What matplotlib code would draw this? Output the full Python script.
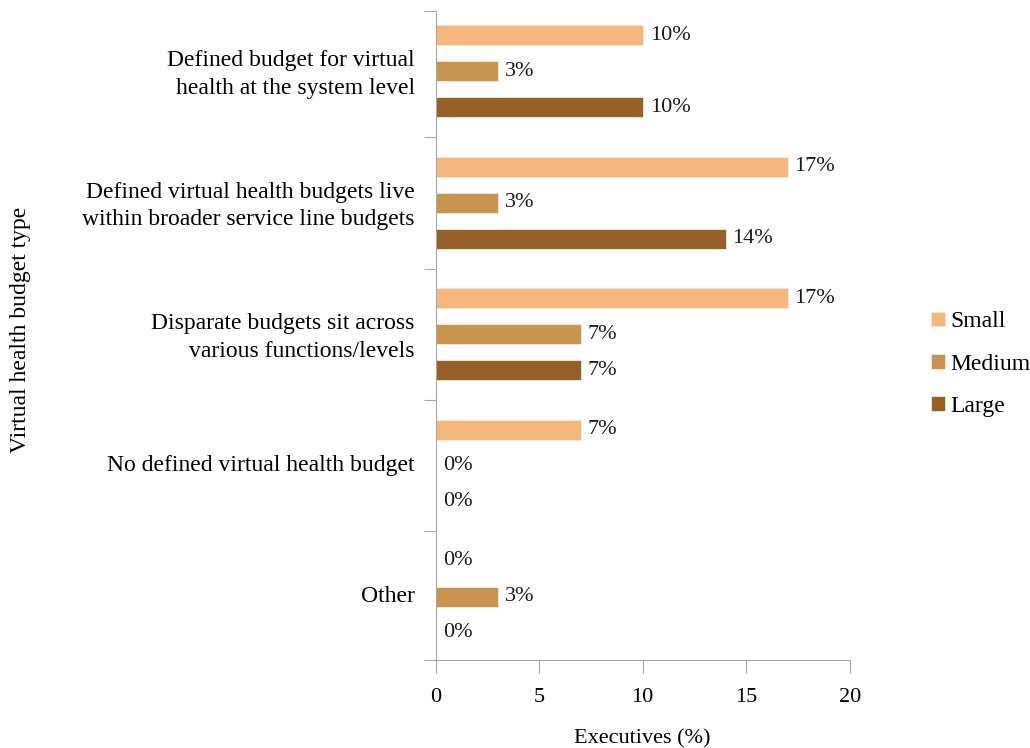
import numpy as np
import matplotlib.pyplot as plt

plt.rcParams['font.family'] = ['Liberation Serif', 'DejaVu Serif']

categories = [
    "Defined budget for virtual\nhealth at the system level",
    "Defined virtual health budgets live\nwithin broader service line budgets",
    "Disparate budgets sit across\nvarious functions/levels",
    "No defined virtual health budget",
    "Other",
]
series = ["Small", "Medium", "Large"]
small = [10, 17, 17, 7, 0]
medium = [3, 3, 7, 0, 3]
large = [10, 14, 7, 0, 0]
colors = ["#F4B87C", "#C8944E", "#956127"]

fig = plt.figure(figsize=(10.30, 7.48), dpi=100)
ax = fig.add_axes([0.423, 0.1176, 0.402, 0.8677])

y = np.arange(len(categories))
offsets = [-0.274, 0.0, 0.274]
for vals, off, col, name in zip([small, medium, large], offsets, colors, series):
    bars = ax.barh(y + off, vals, height=0.152, color=col, edgecolor="#fbe9d6",
                   linewidth=0.6, label=name)
    for b, v in zip(bars, vals):
        ax.annotate(f"{v}%", (v, b.get_y() + b.get_height() / 2),
                    xytext=(5, 0), textcoords="offset points",
                    va="center", ha="left", fontsize=16, color="#1a1a1a")

y_top, y_bot = -0.46, len(categories) - 0.52
ax.set_xlim(0, 20)
ax.set_ylim(y_bot, y_top)
ax.set_xticks([0, 5, 10, 15, 20])

# group boundaries get the visible ticks, labels sit between them
bounds = [y_top] + list(np.arange(0.5, len(categories) - 1)) + [y_bot]
ax.set_yticks(bounds, labels=[""] * len(bounds))
ax.set_yticks(y - 0.02, labels=categories, minor=True)
ax.tick_params(axis="y", which="minor", length=0, pad=15, labelsize=17)
ax.tick_params(axis="y", which="major", length=9, color="#a6a6a6")
ax.tick_params(axis="x", length=9, color="#a6a6a6", labelsize=16, pad=11)
for t in ax.get_yticklabels(minor=True):
    t.set_linespacing(1.42)

for s in ["top", "right"]:
    ax.spines[s].set_visible(False)
for s in ["left", "bottom"]:
    ax.spines[s].set_color("#a6a6a6")

ax.set_xlabel("Executives (%)", fontsize=16, labelpad=16)
fig.text(0.020, 0.559, "Virtual health budget type", rotation=90,
         fontsize=17, ha="center", va="center")

ax.legend(loc="center left", bbox_to_anchor=(1.145, 0.456), frameon=False,
          fontsize=17, handlelength=0.6, handleheight=0.6, handletextpad=0.2,
          labelspacing=0.9)

fig.savefig("out.png", dpi=100)
